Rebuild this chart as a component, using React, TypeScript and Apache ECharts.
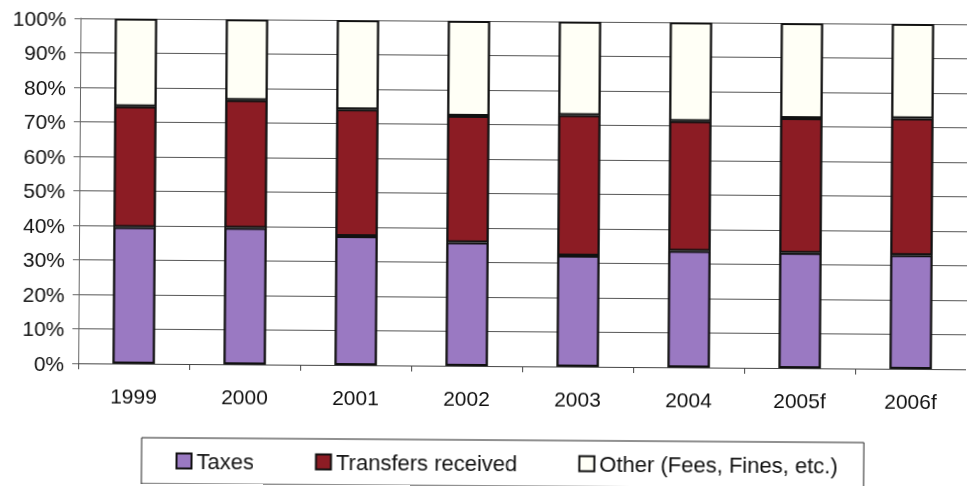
import React, { useEffect, useRef } from "react";
import * as echarts from "echarts";

// Revenue composition by year (share of total, %)
const years = ["1999", "2000", "2001", "2002", "2003", "2004", "2005f", "2006f"];
const taxes = [39.6, 39.6, 37.4, 35.8, 32.2, 33.8, 33.4, 33.0];
const transfers = [35.0, 37.0, 36.7, 36.7, 40.7, 37.6, 39.1, 39.6];
const other = [25.4, 23.4, 25.9, 27.5, 27.1, 28.6, 27.5, 27.4];
const seriesNames = ["Taxes", "Transfers received", "Other (Fees, Fines, etc.)"];
const seriesColors = ["#9a79c2", "#8c1c24", "#fffff6"];

const FONT = "'Liberation Sans', Arial, Helvetica, sans-serif";

export default function App() {
  const ref = useRef<HTMLDivElement>(null);

  useEffect(() => {
    if (!ref.current) return;
    const chart = echarts.init(ref.current, undefined, { renderer: "svg" });
    const values = [taxes, transfers, other];
    // column totals, used for the heavy outline around each stacked column
    const totals = years.map((_, i) => values.reduce((s, v) => s + v[i], 0));

    const stacked = seriesNames.map((name, i) => ({
      name,
      type: "bar",
      stack: "total",
      barWidth: 42,
      barGap: "-100%",
      data: values[i],
      itemStyle: { color: seriesColors[i], borderColor: "#111", borderWidth: 2 },
    }));

    chart.setOption({
      animation: false,
      backgroundColor: "#ffffff",
      textStyle: { fontFamily: FONT },
      grid: { left: 79, right: 0, top: 21, bottom: 120, containLabel: false },
      legend: {
        left: 143,
        top: 440,
        padding: [12, 26, 12, 34],
        itemGap: 61,
        itemWidth: 15,
        itemHeight: 15,
        icon: "rect",
        borderColor: "#222",
        borderWidth: 1,
        data: seriesNames,
        itemStyle: { borderColor: "#111", borderWidth: 2 },
        textStyle: { fontSize: 22, color: "#111", fontFamily: FONT },
      },
      xAxis: {
        type: "category",
        data: years,
        axisLine: { lineStyle: { color: "#444", width: 1 } },
        axisTick: { show: true, length: 6, lineStyle: { color: "#444" } },
        axisLabel: { fontSize: 21, color: "#111", margin: 22, fontFamily: FONT },
      },
      yAxis: {
        type: "value",
        min: 0,
        max: 100,
        interval: 10,
        axisLine: { show: true, lineStyle: { color: "#666", width: 1 } },
        axisTick: { show: true, length: 6, lineStyle: { color: "#666" } },
        axisLabel: { formatter: "{value}%", fontSize: 21, color: "#111", margin: 14, fontFamily: FONT },
        splitLine: { show: true, lineStyle: { color: "#555", width: 1 } },
      },
      series: [
        ...stacked,
        {
          name: "outline",
          type: "bar",
          barWidth: 42,
          barGap: "-100%",
          data: totals,
          z: 5,
          silent: true,
          itemStyle: { color: "transparent", borderColor: "#111", borderWidth: 1.5 },
        },
      ],
    });

    return () => chart.dispose();
  }, []);

  return (
    <div
      ref={ref}
      style={{
        position: "fixed",
        left: 0,
        top: 0,
        width: 967,
        height: 486,
        // the printed page sits at a slight clockwise tilt
        transform: "rotate(0.39deg)",
        transformOrigin: "50% 50%",
      }}
    />
  );
}
